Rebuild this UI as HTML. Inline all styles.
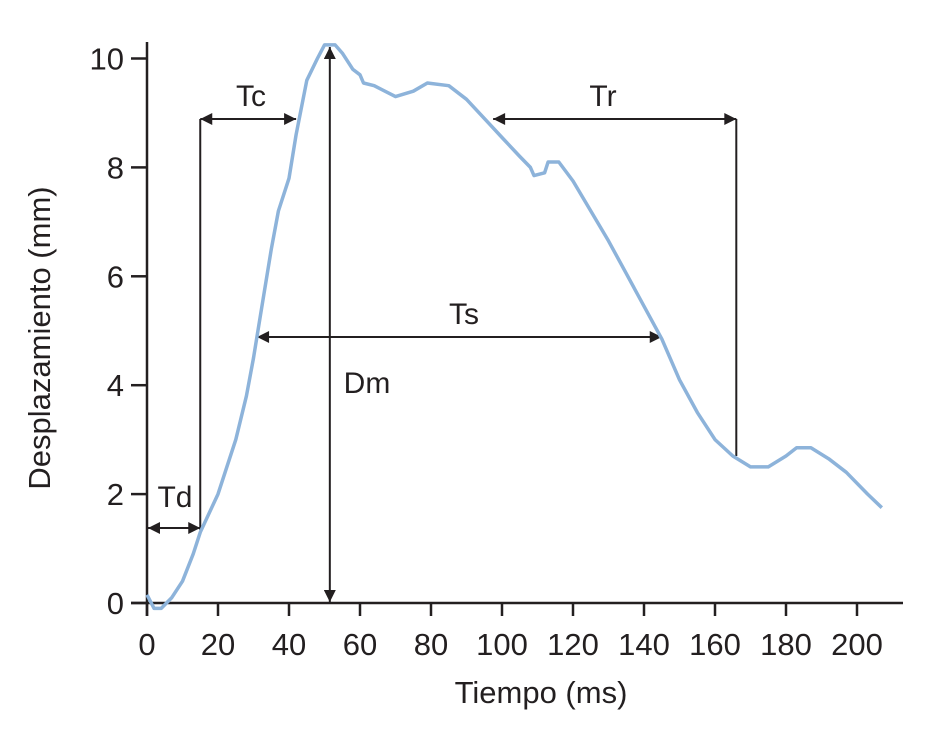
<!DOCTYPE html>
<html><head><meta charset="utf-8"><style>
body{margin:0;background:#fff;}
svg text{font-family:"Liberation Sans",Arial,sans-serif;fill:#231f20;}
</style></head><body>
<svg id="chart" width="937" height="729" viewBox="0 0 937 729">
<defs>
<marker id="ah" viewBox="0 0 10 10" refX="10" refY="5" markerWidth="14" markerHeight="12" markerUnits="userSpaceOnUse" orient="auto-start-reverse"><path d="M0,0 L10,5 L0,10 z" fill="#231f20"/></marker>
</defs>
<g id="axes"></g>
<g id="annot"></g>
<path id="curve" fill="none" stroke="#8db3da" stroke-width="3.5" stroke-linejoin="round"/>
<text x="541" y="703" font-size="31" text-anchor="middle">Tiempo (ms)</text>
<text transform="translate(50,338) rotate(-90)" font-size="31" text-anchor="middle">Desplazamiento (mm)</text>
</svg>
<script>
const xTicks=[0,20,40,60,80,100,120,140,160,180,200];
const yTicks=[0,2,4,6,8,10];
const timeMs=[0,2,4,7,10,13,15,20,22,25,28,30,32,35,37,40,42,45,48,50,53,55,58,60,61,64,70,75,79,85,90,95,100,105,108,109,112,113,116,120,125,130,135,140,145,150,155,160,165,170,175,180,183,187,192,197,203,207];
const dispMm=[0.15,-0.1,-0.1,0.1,0.4,0.9,1.3,2.0,2.4,3.0,3.8,4.5,5.3,6.5,7.2,7.8,8.6,9.6,10.0,10.25,10.25,10.1,9.8,9.7,9.55,9.5,9.3,9.4,9.55,9.5,9.25,8.9,8.55,8.2,8.0,7.85,7.9,8.1,8.1,7.75,7.2,6.65,6.05,5.45,4.85,4.1,3.5,3.0,2.7,2.5,2.5,2.7,2.85,2.85,2.65,2.4,2.0,1.75];
const X=v=>147+v*3.55, Y=v=>603-v*54.45;
const NS="http://www.w3.org/2000/svg";
function mk(tag,attrs,parent){const e=document.createElementNS(NS,tag);for(const k in attrs)e.setAttribute(k,attrs[k]);parent.appendChild(e);return e;}
const ax=document.getElementById('axes');
let l=mk('line',{x1:147,y1:42,x2:147,y2:616,stroke:'#231f20','stroke-width':2.5},ax);


l=mk('line',{x1:131,y1:603,x2:903,y2:603,stroke:'#231f20','stroke-width':2.5},ax);


xTicks.forEach(t=>{
 const tk=mk('line',{x1:X(t),y1:603,x2:X(t),y2:616,stroke:'#231f20','stroke-width':2.5},ax);
 
 
 const tx=mk('text',{x:X(t),y:655,'font-size':31,'text-anchor':'middle'},ax);tx.textContent=t;
 
 
});
yTicks.forEach(t=>{
 const tk=mk('line',{x1:131,y1:Y(t),x2:147,y2:Y(t),stroke:'#231f20','stroke-width':2.5},ax);
 
 
 const tx=mk('text',{x:124,y:Y(t)+11,'font-size':31,'text-anchor':'end'},ax);tx.textContent=t;
 
 
});
document.getElementById('curve').setAttribute('d',timeMs.map((t,i)=>(i?'L':'M')+X(t).toFixed(1)+','+Y(dispMm[i]).toFixed(1)).join(''));
const an=document.getElementById('annot');
function ln(x1,y1,x2,y2,name,arr){const e=mk('line',{x1,y1,x2,y2,stroke:'#231f20','stroke-width':2},an);
 if(arr){e.setAttribute('marker-start','url(#ah)');e.setAttribute('marker-end','url(#ah)');}
 
 }
function tx(x,y,s,name){const e=mk('text',{x,y,'font-size':30,'text-anchor':'middle'},an);e.textContent=s;
 
 }
ln(X(15),119,X(15),530,'tc-start-line');
ln(X(166),119,X(166),456,'tr-end-line');
ln(X(15),119,X(42),119,'tc-arrow',1);
ln(X(97.5),119,X(166),119,'tr-arrow',1);
ln(X(31),337,X(145),337,'ts-arrow',1);
ln(X(51.5),47,X(51.5),602,'dm-arrow',1);
ln(148,528,X(15),528,'td-arrow',1);
tx(251,106,'Tc','tc-label');
tx(603,106,'Tr','tr-label');
tx(464,324,'Ts','ts-label');
tx(367,393,'Dm','dm-label');
tx(175,507,'Td','td-label');
</script>
</body></html>
